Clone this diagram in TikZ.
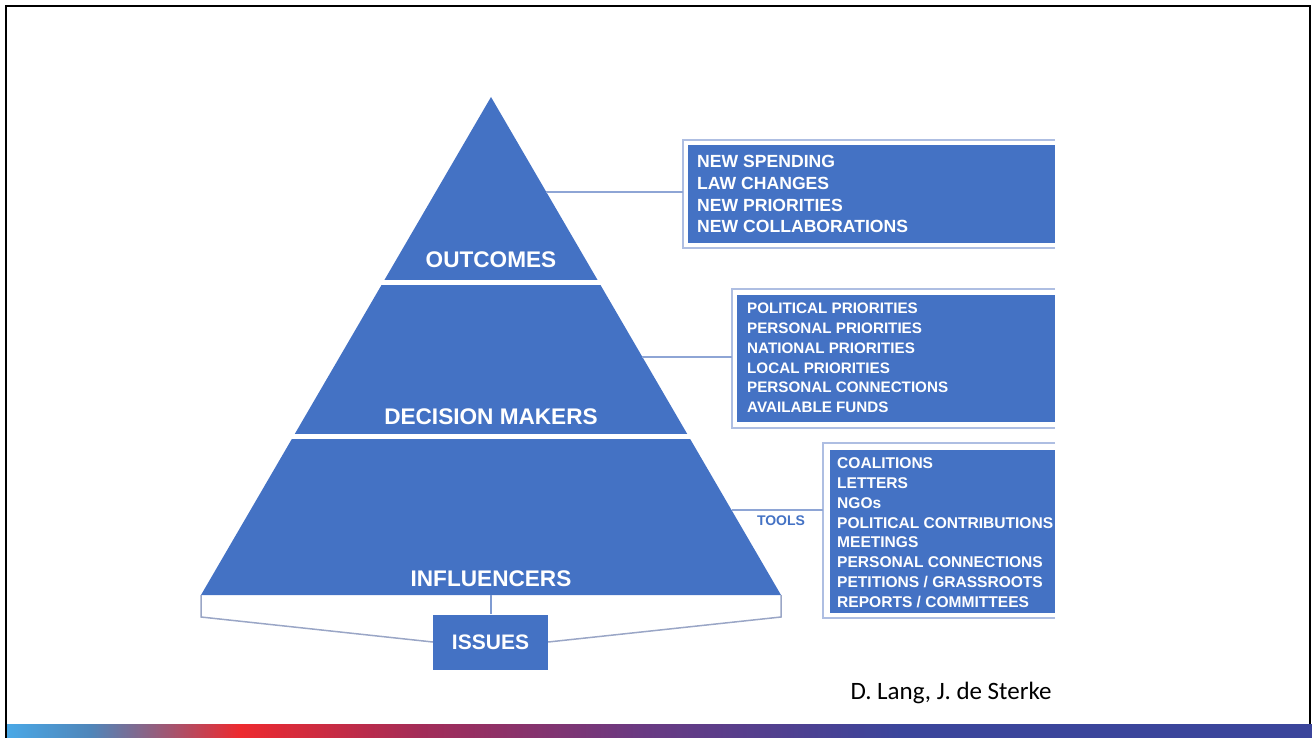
\documentclass[tikz,border=0pt]{standalone}
\usepackage{fontspec}
\setmainfont{Liberation Sans}
\newfontfamily\credfont{Carlito}
\definecolor{pyrblue}{HTML}{4472C4}
\definecolor{linkblue}{HTML}{8EA5D5}
\definecolor{frameblue}{HTML}{AEBEE2}
\definecolor{plinthgrey}{HTML}{9AA6C6}
\definecolor{barA}{HTML}{4AA8E6}
\definecolor{barB}{HTML}{4F86BA}
\definecolor{barC}{HTML}{ED2A2F}
\definecolor{barD}{HTML}{A32C58}
\definecolor{barE}{HTML}{6A3A82}
\definecolor{barF}{HTML}{3B459B}
\begin{document}
\begin{tikzpicture}[x=1pt,y=-1pt,
  tier/.style={text=white,inner sep=0pt,font=\fontsize{22.6}{26}\selectfont\bfseries},
  item/.style={text=white,inner sep=0pt,anchor=base west},
  link/.style={draw=linkblue,line width=1.5pt},
  frame/.style={draw=frameblue,line width=2pt},
  plinth/.style={draw=plinthgrey,line width=1.5pt}]
\useasboundingbox (0,0) rectangle (1312,738);
% slide frame and bar
\draw[line width=2.5pt] (6,738) -- (6,6) -- (1310,6) -- (1310,724);
\shade[left color=barA, right color=barB] (7,724) rectangle (90,738);
\shade[left color=barB, right color=barC] (90,724) rectangle (240,738);
\shade[left color=barC, right color=barD] (240,724) rectangle (420,738);
\shade[left color=barD, right color=barE] (420,724) rectangle (640,738);
\shade[left color=barE, right color=barF] (640,724) rectangle (900,738);
\fill[barF] (900,724) rectangle (1312,738);

% pyramid
\fill[pyrblue] (491,97) coordinate (apex) -- (201,595) coordinate (bl) -- (781,595) coordinate (br) -- cycle;
\draw[white,line width=5pt] (375,282.5) -- (607,282.5);
\draw[white,line width=5pt] (285,436) -- (697,436);
\node[tier] (outcomes) at (491,260) {OUTCOMES};
\node[tier] (makers) at (491,417) {DECISION MAKERS};
\node[tier] (influencers) at (491,579) {INFLUENCERS};

% issues and plinth
\coordinate (base) at (490.5,595);
\node[fill=pyrblue,text=white,inner sep=0pt,minimum width=115pt,minimum height=55pt,
  font=\fontsize{21}{25}\selectfont\bfseries] (issues) at (490.5,642) {ISSUES};
\draw[plinth] (bl) -- ++(0,22) -- (issues.west);
\draw[plinth] (br) -- ++(0,22) -- (issues.east);
\draw[draw=linkblue!80!pyrblue,line width=2pt] (base) -- (issues.north);

% outcomes list
\draw[frame] (1055,140) -- (683,140) -- (683,248) -- (1055,248);
\fill[pyrblue] (688,145) rectangle (1055,243);
\foreach \t [count=\i] in {NEW SPENDING,LAW CHANGES,NEW PRIORITIES,NEW COLLABORATIONS}
  \node[item,font=\fontsize{17.6}{21}\selectfont\bfseries] (out-\i) at (697,{167.3+21.9*(\i-1)}) {\t};
\coordinate (e1) at (546.3,192);
\coordinate (b1) at (683,192);
\draw[link] (e1) -- (b1);

% decision makers list
\draw[frame] (1055,289) -- (732,289) -- (732,428) -- (1055,428);
\fill[pyrblue] (737,295) rectangle (1055,422);
\foreach \t [count=\i] in {POLITICAL PRIORITIES,PERSONAL PRIORITIES,NATIONAL PRIORITIES,
    LOCAL PRIORITIES,PERSONAL CONNECTIONS,AVAILABLE FUNDS}
  \node[item,font=\fontsize{15.2}{18}\selectfont\bfseries] (dm-\i) at (747,{313.7+19.8*(\i-1)}) {\t};
\coordinate (e2) at (642.4,357);
\coordinate (b2) at (732,357);
\draw[link] (e2) -- (b2);

% influencers list
\draw[frame] (1055,443) -- (823,443) -- (823,618) -- (1055,618);
\fill[pyrblue] (830,450) rectangle (1055,613);
\foreach \t [count=\i] in {COALITIONS,LETTERS,NGOs,POLITICAL CONTRIBUTIONS,MEETINGS,
    PERSONAL CONNECTIONS,{PETITIONS / GRASSROOTS},{REPORTS / COMMITTEES}}
  \node[item,font=\fontsize{15.55}{18}\selectfont\bfseries] (inf-\i) at (837,{468.9+19.77*(\i-1)}) {\t};
\coordinate (e3) at (731.5,510);
\coordinate (b3) at (823,510);
\draw[link] (e3) -- (b3);
\node[text=pyrblue,inner sep=0pt,font=\fontsize{14}{16}\selectfont\bfseries] (tools) at (781,521) {TOOLS};

% credit
\node[anchor=base,inner sep=0pt,font=\credfont\fontsize{25}{29}\selectfont] (credit) at (951,699) {D. Lang, J. de Sterke};
\end{tikzpicture}
\end{document}
